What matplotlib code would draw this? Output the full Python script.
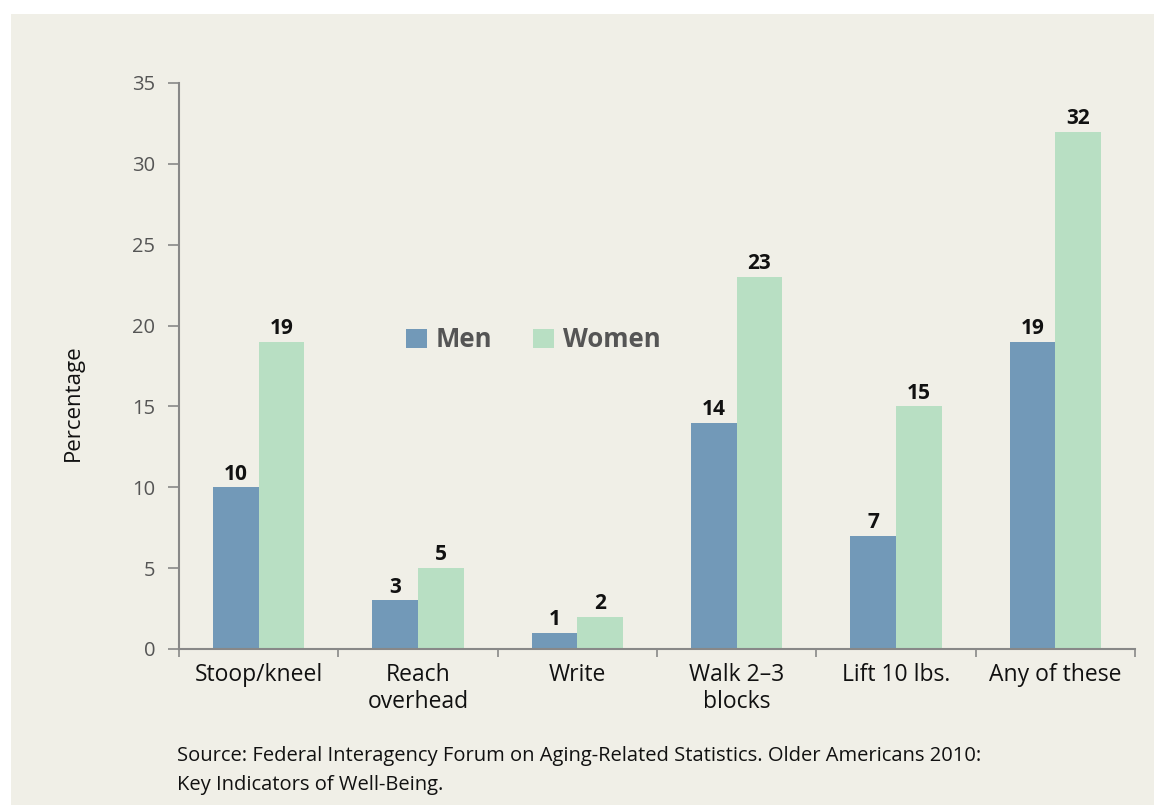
import matplotlib
matplotlib.use('Agg')
import matplotlib.pyplot as plt
import numpy as np
from matplotlib.patches import Rectangle

# Data
categories = ['Stoop/kneel', 'Reach\noverhead', 'Write', 'Walk 2\u20133\nblocks', 'Lift 10 lbs.', 'Any of these']
men = [10, 3, 1, 14, 7, 19]
women = [19, 5, 2, 23, 15, 32]
source = ('Source: Federal Interagency Forum on Aging-Related Statistics. Older Americans 2010:\n'
          'Key Indicators of Well-Being.')

men_color = '#7299b8'
women_color = '#b8dfc3'
panel_color = '#f0efe7'

plt.rcParams['font.family'] = ['Open Sans', 'DejaVu Sans']

fig = plt.figure(figsize=(11.54, 8.06), dpi=100)
fig.patch.set_facecolor('white')
# beige panel behind the chart
fig.patches.append(Rectangle((11 / 1154, 0.001), 1 - 11 / 1154, 1 - 14 / 806 - 0.001,
                             transform=fig.transFigure, facecolor=panel_color,
                             edgecolor='none', zorder=-10))

ax = fig.add_axes([179 / 1154, 1 - 649 / 806, (1135 - 179) / 1154, (649 - 83) / 806])
ax.set_facecolor('none')

x = np.arange(len(categories))
w = 0.286
b1 = ax.bar(x - w / 2, men, w, color=men_color, label='Men')
b2 = ax.bar(x + w / 2, women, w, color=women_color, label='Women')

# value labels
for bars, vals in [(b1, men), (b2, women)]:
    for rect, v in zip(bars, vals):
        ax.annotate(str(v), (rect.get_x() + rect.get_width() / 2, rect.get_height()),
                    xytext=(0, 2), textcoords='offset points', ha='center', va='bottom',
                    fontsize=15, fontweight='bold', color='#111111')

ax.set_xlim(-0.5, len(categories) - 0.5)
ax.set_ylim(0, 35)
ax.set_yticks(range(0, 36, 5))
ax.tick_params(axis='y', labelsize=14.5, labelcolor='#555555', color='#888888',
               length=8, width=1.2, pad=9)

ax.set_xticks(x)
ax.set_xticklabels(categories, fontsize=16.5, color='#111111', linespacing=1.2)
ax.tick_params(axis='x', length=0, pad=10)
ax.set_xticks(np.arange(len(categories) + 1) - 0.5, minor=True)
ax.tick_params(axis='x', which='minor', length=6, width=1.2, color='#888888', direction='out')

for s in ['top', 'right']:
    ax.spines[s].set_visible(False)
for s in ['left', 'bottom']:
    ax.spines[s].set_color('#888888')
    ax.spines[s].set_linewidth(1.5)

ax.set_ylabel('Percentage', fontsize=16, color='#111111')
ax.yaxis.set_label_coords(-0.1, 0.436)

leg = ax.legend(loc='center left', bbox_to_anchor=(0.224, 0.546), ncol=2, frameon=False,
                prop={'size': 18.5, 'weight': 'bold'}, handlelength=0.8, handleheight=0.8,
                handletextpad=0.35, columnspacing=1.6, borderpad=0)
for t in leg.get_texts():
    t.set_color('#555555')

fig.text(177 / 1154, 1 - 746 / 806, source, fontsize=14.5, color='#111111',
         va='top', ha='left', linespacing=1.6)

fig.savefig('out.png', dpi=100)
